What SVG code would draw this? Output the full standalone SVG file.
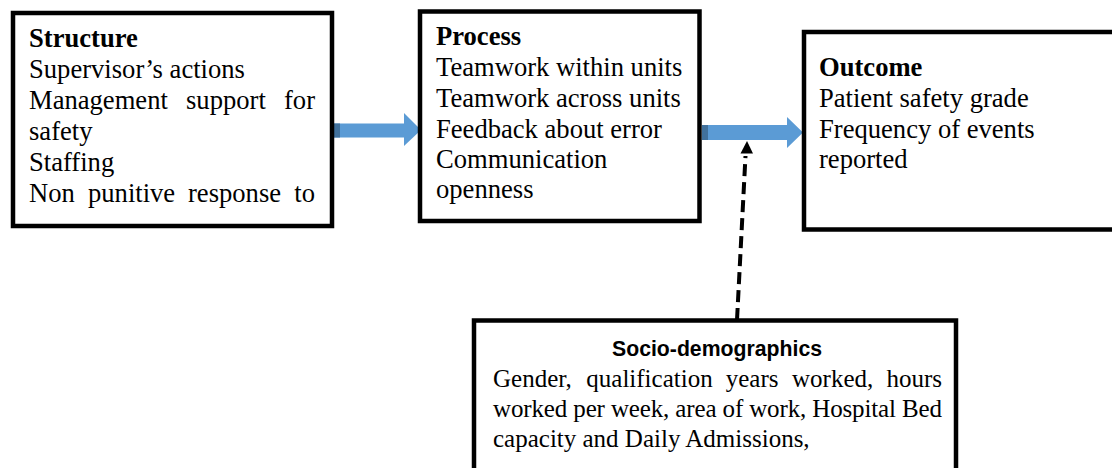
<svg xmlns="http://www.w3.org/2000/svg" width="1112" height="468" viewBox="0 0 1112 468">
  <style>
    .box { fill: #ffffff; stroke: #000000; stroke-width: 4.5; }
    .t { font-family: "Liberation Serif", "Times New Roman", serif; font-size: 26.6px; fill: #000000; }
    .ts { font-family: "Liberation Serif", "Times New Roman", serif; font-size: 25px; fill: #000000; }
    .b { font-weight: bold; }
    .head { font-family: "Liberation Sans", Arial, sans-serif; font-size: 22px; font-weight: bold; fill: #000000; }
    .flow { fill: #5B9BD5; }
    .flowEdge { fill: #41719C; }
    .dash { stroke: #000000; stroke-width: 4; stroke-dasharray: 12 6; fill: none; }
  </style>

  <!-- connectors -->
  <g id="connectors">
    <!-- block arrow: structure to process -->
    <g id="arrow-structure-process">
      <polygon class="flow" points="334,123.5 404,123.5 404,113 421,130 404,146 404,137.5 334,137.5"/>
      <rect class="flowEdge" x="334" y="123.5" width="6" height="14"/>
    </g>
    <!-- block arrow: process to outcome -->
    <g id="arrow-process-outcome">
      <polygon class="flow" points="702,125 787,125 787,117 803,132.5 787,148 787,140 702,140"/>
      <rect class="flowEdge" x="702" y="125" width="6" height="15"/>
    </g>
    <!-- dashed influence from socio-demographics -->
    <g id="arrow-socio">
      <line class="dash" x1="737" y1="320" x2="745.5" y2="156"/>
      <polygon points="747,141 740.5,153.5 753,153.5" fill="#000000"/>
    </g>
  </g>

  <!-- Structure -->
  <g id="node-structure">
    <rect class="box" x="13" y="13" width="319" height="213"/>
    <text class="t b" x="29" y="47">Structure</text>
    <text class="t" x="29" y="78">Supervisor’s actions</text>
    <text class="t" y="109"><tspan x="29">Management</tspan><tspan x="186">support</tspan><tspan x="315" text-anchor="end">for</tspan></text>
    <text class="t" x="29" y="140">safety</text>
    <text class="t" x="29" y="171">Staffing</text>
    <text class="t" y="202"><tspan x="29">Non</tspan><tspan x="88">punitive</tspan><tspan x="188">response</tspan><tspan x="315" text-anchor="end">to</tspan></text>
  </g>

  <!-- Process -->
  <g id="node-process">
    <rect class="box" x="420" y="11.5" width="279.5" height="209.5"/>
    <text class="t b" x="436" y="45">Process</text>
    <text class="t" x="436" y="76">Teamwork within units</text>
    <text class="t" x="436" y="107">Teamwork across units</text>
    <text class="t" x="436" y="138">Feedback about error</text>
    <text class="t" x="436" y="168">Communication</text>
    <text class="t" x="436" y="198">openness</text>
  </g>

  <!-- Outcome -->
  <g id="node-outcome">
    <rect class="box" x="804" y="32" width="320" height="197.5"/>
    <text class="t b" x="819" y="76">Outcome</text>
    <text class="t" x="819" y="107">Patient safety grade</text>
    <text class="t" x="819" y="138">Frequency of events</text>
    <text class="t" x="819" y="168">reported</text>
  </g>

  <!-- Socio-demographics -->
  <g id="node-socio">
    <rect class="box" x="474" y="320.5" width="482" height="160"/>
    <text class="head" x="717" y="356" text-anchor="middle" textLength="210" lengthAdjust="spacingAndGlyphs">Socio-demographics</text>
    <text class="ts" y="387"><tspan x="493">Gender,</tspan><tspan x="586.3">qualification</tspan><tspan x="725.7">years</tspan><tspan x="792">worked,</tspan><tspan x="942" text-anchor="end">hours</tspan></text>
    <text class="ts" x="493" y="417" textLength="449" lengthAdjust="spacing">worked per week, area of work, Hospital Bed</text>
    <text class="ts" x="493" y="447">capacity and Daily Admissions,</text>
  </g>
</svg>
